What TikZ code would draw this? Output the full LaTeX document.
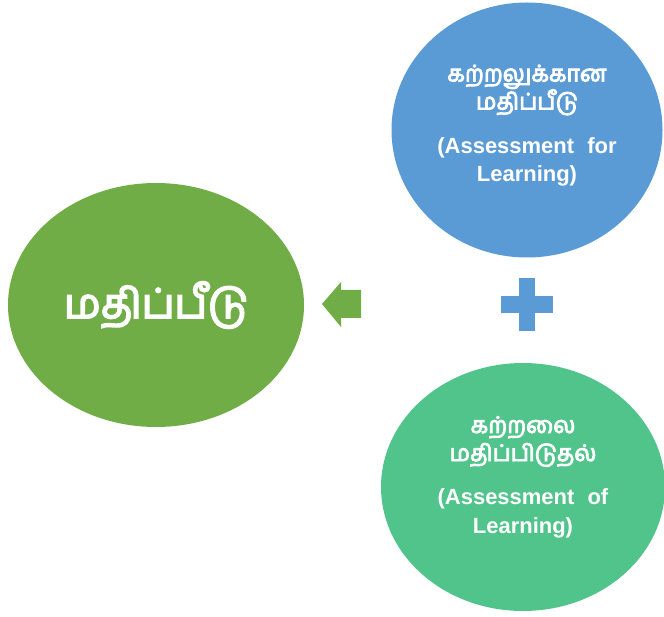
\documentclass[tikz,border=0pt]{standalone}
\usepackage{fontspec}
\setmainfont{Liberation Sans}
\newfontfamily\tamilfont[Script=Tamil, FakeBold=4]{Hind Madurai}
\usetikzlibrary{shapes.geometric, positioning}

\definecolor{leafgreen}{HTML}{70AD47}
\definecolor{skyblue}{HTML}{5B9BD5}
\definecolor{mintgreen}{HTML}{51C48C}

\newcommand{\tamiltext}[1]{{\tamilfont\mdseries\fontsize{13}{16}\selectfont #1}}

\begin{document}
\begin{tikzpicture}[
    % Node styles
    bubble/.style={ellipse, draw=none, inner sep=0pt},
    bubtext/.style={text=white, align=center, font=\bfseries\fontsize{12.5}{16}\selectfont},
    bigtext/.style={text=white, font=\tamilfont\fontsize{23.5}{28}\selectfont},
]
\useasboundingbox (0,0) rectangle (13.28,12.32);

% Main bubble (left)
\node[bubble, fill=leafgreen, minimum width=5.92cm, minimum height=4.88cm] (assess) at (3.12, 6.22) {};
\node[bigtext] (assesslbl) at (assess.center) {மதிப்பீடு};

% Assessment for learning (top right)
\node[bubble, fill=skyblue, minimum width=5.42cm, minimum height=5.1cm] (forlearn) at (10.54, 9.72) {};
\node[bubtext] (forlbl) at ([yshift=0.09cm]forlearn.center) {\tamiltext{கற்றலுக்கான}\\\tamiltext{மதிப்பீடு}\\[9pt]
    (Assessment\hspace{0.6em}for\\Learning)};

% Assessment of learning (bottom right)
\node[bubble, fill=mintgreen, minimum width=5.68cm, minimum height=4.96cm] (oflearn) at (10.46, 2.58) {};
\node[bubtext] (oflbl) at ([yshift=0.2cm]oflearn.center) {\tamiltext{கற்றலை}\\\tamiltext{மதிப்பிடுதல்}\\[9pt]
    (Assessment\hspace{0.6em}of\\Learning)};

% Arrow pointing to the main bubble
\fill[leafgreen] (6.44, 6.24) -- (6.82, 6.68) -- (6.82, 6.52) -- (7.22, 6.52)
    -- (7.22, 5.96) -- (6.82, 5.96) -- (6.82, 5.78) -- cycle;

% Plus sign
\fill[skyblue] (10.38, 5.70) rectangle (10.70, 6.76);
\fill[skyblue] (10.02, 6.06) rectangle (11.06, 6.40);

\end{tikzpicture}
\end{document}
